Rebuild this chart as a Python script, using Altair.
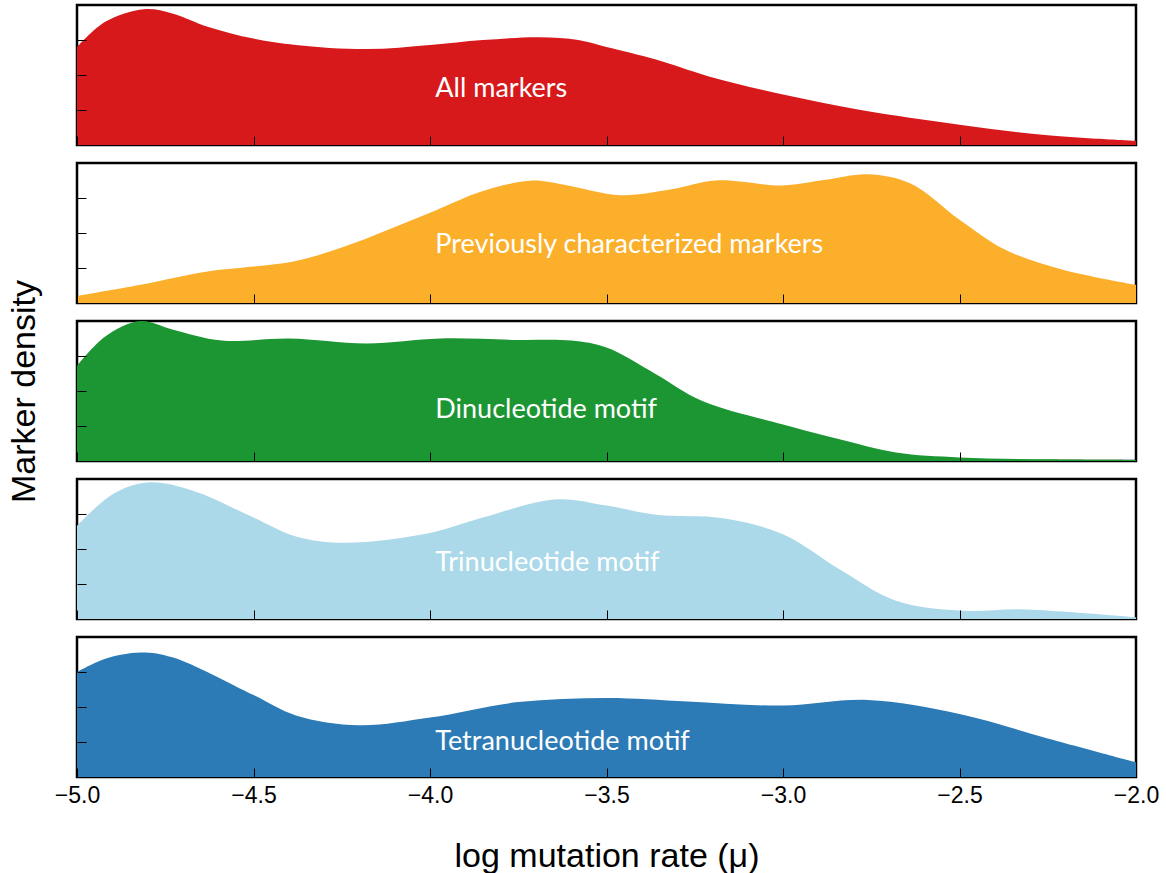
import altair as alt
import pandas as pd

names = ["All markers", "Previously characterized markers", "Dinucleotide motif",
         "Trinucleotide motif", "Tetranucleotide motif"]
colors = ["#d7191c", "#fbaf2a", "#1c9633", "#abd9e9", "#2c7bb6"]

red_x = [-5.00, -4.92, -4.81, -4.73, -4.63, -4.50, -4.38, -4.18, -4.00, -3.85, -3.69,
         -3.58, -3.50, -3.36, -3.21, -3.00, -2.78, -2.50, -2.25, -2.00]
red_y = [0.70, 0.88, 0.97, 0.94, 0.845, 0.76, 0.715, 0.685, 0.715, 0.75, 0.77,
         0.75, 0.70, 0.61, 0.49, 0.36, 0.25, 0.145, 0.07, 0.03]

orange_x = [-5.00, -4.82, -4.63, -4.50, -4.38, -4.24, -4.00, -3.85, -3.71, -3.62, -3.46,
            -3.32, -3.19, -3.00, -2.88, -2.76, -2.64, -2.50, -2.37, -2.21, -2.00]
orange_y = [0.05, 0.13, 0.225, 0.26, 0.30, 0.405, 0.645, 0.80, 0.875, 0.845, 0.77,
            0.81, 0.875, 0.84, 0.88, 0.92, 0.855, 0.595, 0.38, 0.24, 0.13]

green_x = [-5.00, -4.92, -4.82, -4.73, -4.59, -4.40, -4.18, -3.97, -3.75, -3.60, -3.50,
           -3.36, -3.23, -3.00, -2.84, -2.68, -2.50, -2.25, -2.00]
green_y = [0.68, 0.89, 1.0, 0.94, 0.86, 0.875, 0.84, 0.875, 0.865, 0.86, 0.81,
           0.62, 0.43, 0.26, 0.155, 0.06, 0.025, 0.012, 0.007]

lightblue_x = [-5.00, -4.90, -4.80, -4.67, -4.50, -4.38, -4.24, -4.00, -3.85, -3.64,
               -3.50, -3.36, -3.17, -3.00, -2.84, -2.68, -2.50, -2.33, -2.19, -2.00]
lightblue_y = [0.665, 0.89, 0.975, 0.915, 0.725, 0.59, 0.545, 0.615, 0.725, 0.855,
               0.81, 0.745, 0.72, 0.605, 0.355, 0.13, 0.06, 0.07, 0.05, 0.012]

blue_x = [-5.00, -4.92, -4.82, -4.73, -4.50, -4.38, -4.20, -4.00, -3.75, -3.50, -3.27,
          -3.00, -2.76, -2.50, -2.25, -2.00]
blue_y = [0.75, 0.845, 0.89, 0.855, 0.585, 0.44, 0.37, 0.425, 0.535, 0.565, 0.54,
          0.51, 0.55, 0.45, 0.275, 0.105]

series_x = [red_x, orange_x, green_x, lightblue_x, blue_x]
series_y = [red_y, orange_y, green_y, lightblue_y, blue_y]

label_x = -3.985
label_y = [0.343, 0.357, 0.305, 0.34, 0.19]

x_ticks = [-5.0, -4.5, -4.0, -3.5, -3.0, -2.5, -2.0]
y_ticks = [0.25, 0.5, 0.75]

AXIS_FONT = "Liberation Sans"

panels = []
for i in range(5):
    df = pd.DataFrame({"x": series_x[i], "y": series_y[i]})
    last = i == 4
    x_axis = alt.Axis(
        values=x_ticks, format=".1f", labels=last, domain=False, grid=False,
        ticks=True, tickSize=9, offset=-9, tickColor="black", tickWidth=1,
        labelFontSize=23, labelFont=AXIS_FONT, labelColor="black", labelPadding=7,
        labelFlush=False, zindex=1,
        title=("log mutation rate (μ)" if last else None),
        titleFontSize=34, titleFont=AXIS_FONT, titleFontWeight="normal",
        titleColor="black", titlePadding=32,
    )
    y_axis = alt.Axis(
        values=y_ticks, labels=False, domain=False, grid=False, ticks=True,
        tickSize=9, offset=-9, tickColor="black", tickWidth=1, zindex=1,
        title=("Marker density" if i == 2 else None),
        titleFontSize=34, titleFont=AXIS_FONT, titleFontWeight="normal",
        titleColor="black", titlePadding=35,
    )
    xs = alt.Scale(domain=[-5, -2], nice=False, zero=False)
    ys = alt.Scale(domain=[0, 1], nice=False)
    area = alt.Chart(df).mark_area(interpolate="catmull-rom", color=colors[i]).encode(
        x=alt.X("x:Q", scale=xs, axis=x_axis),
        y=alt.Y("y:Q", scale=ys, axis=y_axis),
    )
    tdf = pd.DataFrame({"x": [label_x], "y": [label_y[i]], "t": [names[i]]})
    text = alt.Chart(tdf).mark_text(
        align="left", baseline="alphabetic", font="Lato", fontSize=27, color="white"
    ).encode(
        x=alt.X("x:Q", scale=xs, axis=x_axis),
        y=alt.Y("y:Q", scale=ys, axis=y_axis),
        text="t:N",
    )
    panels.append(alt.layer(area, text).properties(width=1059, height=140))

chart = alt.vconcat(*panels, spacing=18, bounds="flush").properties(
    padding={"left": 6, "top": 3, "right": 4, "bottom": 3}
).configure_view(stroke="black", strokeWidth=2.5)

chart.save("out.html", embed_options={"renderer": "svg", "actions": False})
